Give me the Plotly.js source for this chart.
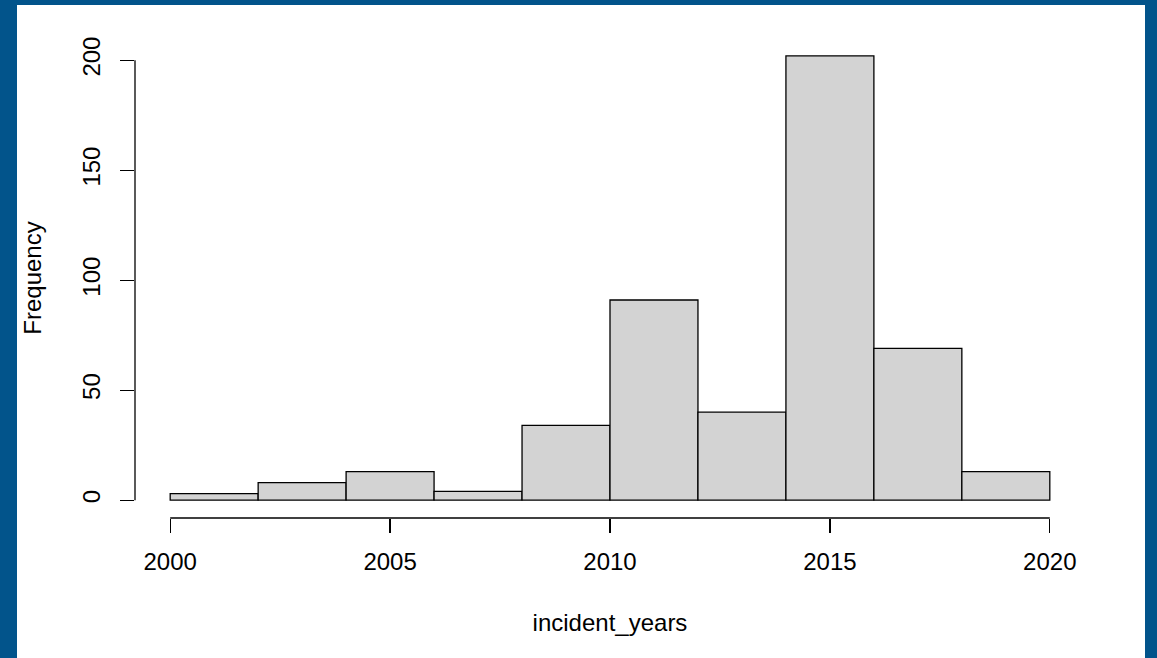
<!DOCTYPE html>
<html>
<head>
<meta charset="utf-8">
<script src="https://cdn.plot.ly/plotly-3.0.1.min.js"></script>
<style>
  html, body { margin: 0; padding: 0; background: #02548B; width: 1157px; height: 658px; overflow: hidden; }
  #chart { position: absolute; left: 17px; top: 5px; width: 1128px; height: 653px; background: #ffffff; }
</style>
</head>
<body>
<div id="chart"></div>
<script>
const binEdges = [2000, 2002, 2004, 2006, 2008, 2010, 2012, 2014, 2016, 2018, 2020];
const counts = [3, 8, 13, 4, 34, 91, 40, 202, 69, 13];
const xTicks = [2000, 2005, 2010, 2015, 2020];
const yTicks = [0, 50, 100, 150, 200];
const xLabel = "incident_years";
const yLabel = "Frequency";

const mids = counts.map((c, i) => (binEdges[i] + binEdges[i + 1]) / 2);
const widths = counts.map((c, i) => binEdges[i + 1] - binEdges[i]);

const font = { family: "Liberation Sans, Arial, sans-serif", size: 24, color: "#000000" };

const xmin = binEdges[0], xmax = binEdges[binEdges.length - 1];
const ymax = Math.max(...counts);
const xpad = (xmax - xmin) * 0.04;
const ypad = ymax * 0.04;

const trace = {
  type: "bar",
  x: mids,
  y: counts,
  width: widths,
  marker: { color: "#D3D3D3", line: { color: "#000000", width: 1.3 } },
  hoverinfo: "x+y"
};

const layout = {
  width: 1128,
  height: 653,
  margin: { l: 118, r: 60, t: 33, b: 140 },
  paper_bgcolor: "#ffffff",
  plot_bgcolor: "#ffffff",
  showlegend: false,
  bargap: 0,
  font: font,
  xaxis: {
    range: [xmin - xpad, xmax + xpad],
    tickvals: xTicks,
    ticktext: xTicks.map(String),
    ticks: "outside",
    ticklen: 14,
    tickwidth: 1.3,
    tickcolor: "#000000",
    showgrid: false,
    zeroline: false,
    showline: false,
    tickfont: font,
    ticklabelstandoff: 8,
    title: { text: xLabel, font: font, standoff: 40 }
  },
  yaxis: {
    range: [-ypad, ymax + ypad],
    tickvals: yTicks,
    ticktext: yTicks.map(String),
    tickangle: -90,
    ticks: "outside",
    ticklen: 14,
    tickwidth: 1.3,
    tickcolor: "#000000",
    showgrid: false,
    zeroline: false,
    showline: false,
    tickfont: font,
    ticklabelstandoff: 10,
    title: { text: yLabel, font: font, standoff: 30 }
  },
  shapes: [
    { type: "line", xref: "x", yref: "paper", x0: xTicks[0], x1: xTicks[xTicks.length - 1], y0: 0, y1: 0,
      line: { color: "#000000", width: 1.3 } },
    { type: "line", xref: "paper", yref: "y", x0: 0, x1: 0, y0: yTicks[0], y1: yTicks[yTicks.length - 1],
      line: { color: "#000000", width: 1.3 } }
  ]
};

Plotly.newPlot("chart", [trace], layout, { displayModeBar: false, staticPlot: true });
</script>
</body>
</html>
